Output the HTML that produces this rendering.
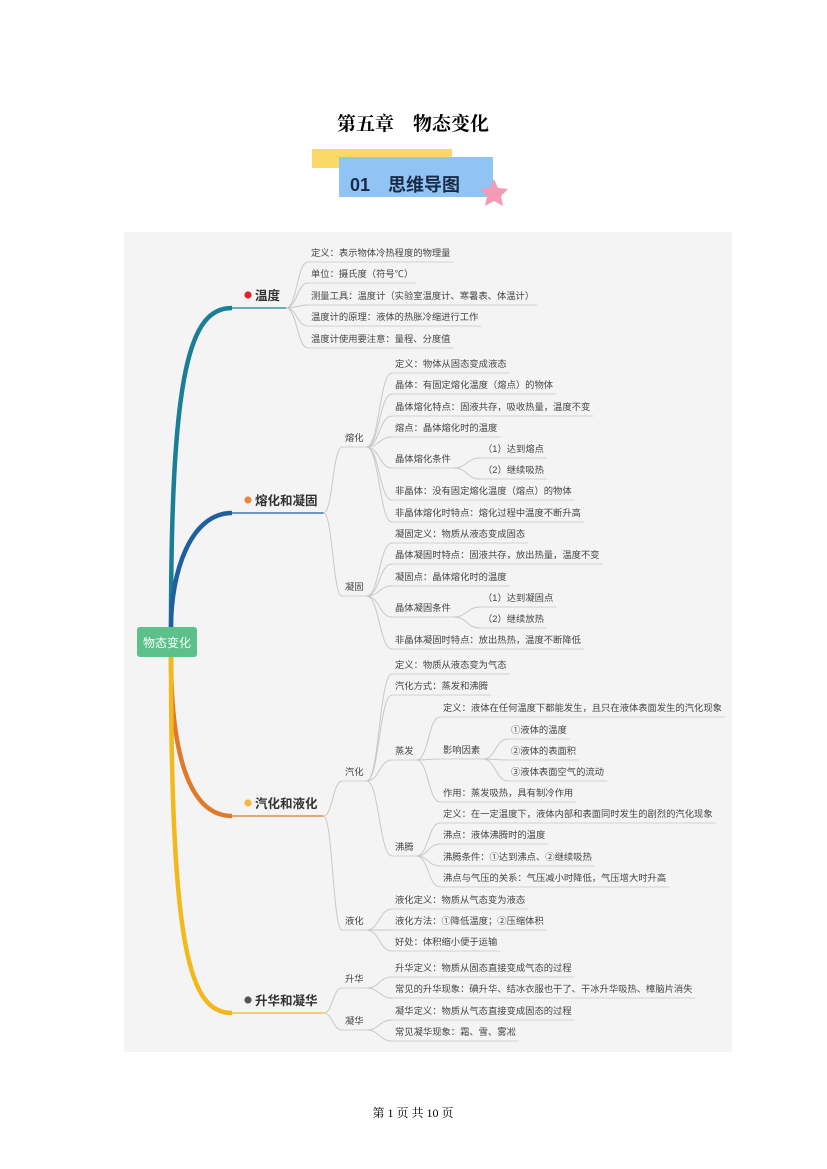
<!DOCTYPE html>
<html><head><meta charset="utf-8"><style>
html,body{margin:0;padding:0;background:#fff;width:827px;height:1169px;overflow:hidden}
svg{display:block}
text{font-family:"Liberation Sans","Noto Sans CJK SC",sans-serif}
</style></head><body>
<svg id="s" width="827" height="1169" xmlns="http://www.w3.org/2000/svg">
<text x="413" y="130" text-anchor="middle" font-size="19" font-weight="bold" style="font-family:'Liberation Serif','Noto Serif CJK SC',serif">第五章　物态变化</text>
<rect x="312" y="149" width="140" height="19" fill="#fbd86a"/>
<rect x="339" y="157" width="154" height="40" fill="#8fc4f5"/>
<text x="350" y="191" font-size="18" font-weight="bold" fill="#1b2a44">01　思维导图</text>
<polygon points="494,179 498,188 508,189 501,196 503,206 494,201 485,206 487,196 480,189 490,188" fill="#f59ab4"/>
<rect x="124" y="232" width="608" height="820" fill="#f4f4f4"/>
<g id="g"></g>
<rect x="137" y="627" width="60" height="30" rx="3" fill="#5cc08a"/>
<text x="167" y="647" text-anchor="middle" font-size="12" fill="#fff">物态变化</text>
<text x="413" y="1117" text-anchor="middle" font-size="12" style="font-family:'Liberation Serif','Noto Serif CJK SC',serif">第  1 页  共  10 页</text>
</svg>
<script>
var NS="http://www.w3.org/2000/svg",g=document.getElementById('g');
function el(n,a,t){var e=document.createElementNS(NS,n);for(var k in a)e.setAttribute(k,a[k]);if(t!=null)e.textContent=t;g.appendChild(e);return e;}
function L(t,x,y,k){return {t:t,x:x,y:y,k:k||[]};}
var data=[
 {t:"温度",y:295,c:"#1a7f96",d:"#e3242b",k:[L("定义：表示物体冷热程度的物理量",311,252),L("单位：摄氏度（符号℃）",311,273),L("测量工具：温度计（实验室温度计、寒暑表、体温计）",311,295),L("温度计的原理：液体的热胀冷缩进行工作",311,316),L("温度计使用要注意：量程、分度值",311,338)]},
 {t:"熔化和凝固",y:500,c:"#1f5fa0",d:"#e8883a",k:[
   L("熔化",345,437,[L("定义：物体从固态变成液态",395,363),L("晶体：有固定熔化温度（熔点）的物体",395,384),L("晶体熔化特点：固液共存，吸收热量，温度不变",395,406),L("熔点：晶体熔化时的温度",395,427),L("晶体熔化条件",395,458,[L("（1）达到熔点",483,448),L("（2）继续吸热",483,469)]),L("非晶体：没有固定熔化温度（熔点）的物体",395,490),L("非晶体熔化时特点：熔化过程中温度不断升高",395,512)]),
   L("凝固",345,586,[L("凝固定义：物质从液态变成固态",395,533),L("晶体凝固时特点：固液共存，放出热量，温度不变",395,554),L("凝固点：晶体熔化时的温度",395,576),L("晶体凝固条件",395,607,[L("（1）达到凝固点",483,597),L("（2）继续放热",483,618)]),L("非晶体凝固时特点：放出热热，温度不断降低",395,639)])]},
 {t:"汽化和液化",y:803,c:"#e07a2a",d:"#f5b942",k:[
   L("汽化",345,771,[L("定义：物质从液态变为气态",395,664),L("汽化方式：蒸发和沸腾",395,685),L("蒸发",395,750,[L("定义：液体在任何温度下都能发生，且只在液体表面发生的汽化现象",443,707),L("影响因素",443,749,[L("①液体的温度",511,729),L("②液体的表面积",511,750),L("③液体表面空气的流动",511,771)]),L("作用：蒸发吸热，具有制冷作用",443,792)]),L("沸腾",395,846,[L("定义：在一定温度下，液体内部和表面同时发生的剧烈的汽化现象",443,813),L("沸点：液体沸腾时的温度",443,834),L("沸腾条件：①达到沸点、②继续吸热",443,856),L("沸点与气压的关系：气压减小时降低，气压增大时升高",443,877)])]),
   L("液化",345,920,[L("液化定义：物质从气态变为液态",395,899),L("液化方法：①降低温度；②压缩体积",395,920),L("好处：体积缩小便于运输",395,941)])]},
 {t:"升华和凝华",y:1000,c:"#f2b81c",d:"#555",k:[
   L("升华",345,978,[L("升华定义：物质从固态直接变成气态的过程",395,967),L("常见的升华现象：碘升华、结冰衣服也干了、干冰升华吸热、樟脑片消失",395,988)]),
   L("凝华",345,1020,[L("凝华定义：物质从气态直接变成固态的过程",395,1010),L("常见凝华现象：霜、雪、雾凇",395,1031)])]}
];
function curve(x1,y1,x2,y2,col,w){var m=Math.min(14,(x2-x1)/2);el('path',{d:"M"+x1+","+y1+" C"+(x1+m)+","+y1+" "+(x2-m)+","+y2+" "+x2+","+y2,fill:"none",stroke:col,"stroke-width":w});}
function node(n,col){
 var t=el('text',{x:n.x,y:n.y+4,"font-size":9.3,fill:"#444"},n.t);
 var w=t.getComputedTextLength();var uy=n.y+10,ux2=n.x+w+3;
 el('line',{x1:n.x-3,y1:uy,x2:ux2,y2:uy,stroke:"#d2d2d2","stroke-width":1});
 n.k.forEach(function(c){curve(ux2,uy,c.x-3,c.y+10,"#c8c8c8",1);node(c);});
}
data.forEach(function(b){
 var uy=b.y+13;
 el('path',{d:"M171,"+(b.y<640?627:657)+" C171,"+(b.y<640?uy+60:uy-60)+" 190,"+uy+" 232,"+uy,fill:"none",stroke:b.c,"stroke-width":4.5});
 el('circle',{cx:248,cy:b.y,r:3.6,fill:b.d});
 var t=el('text',{x:255,y:b.y+5,"font-size":12.5,"font-weight":"bold",fill:"#333"},b.t);
 var ex=255+t.getComputedTextLength()+6;
 el('line',{x1:230,y1:uy,x2:ex,y2:uy,stroke:b.c,"stroke-width":1.2});
 b.k.forEach(function(c){curve(ex,uy,c.x-3,c.y+10,"#c8c8c8",1);node(c);});
});
</script>
</body></html>
